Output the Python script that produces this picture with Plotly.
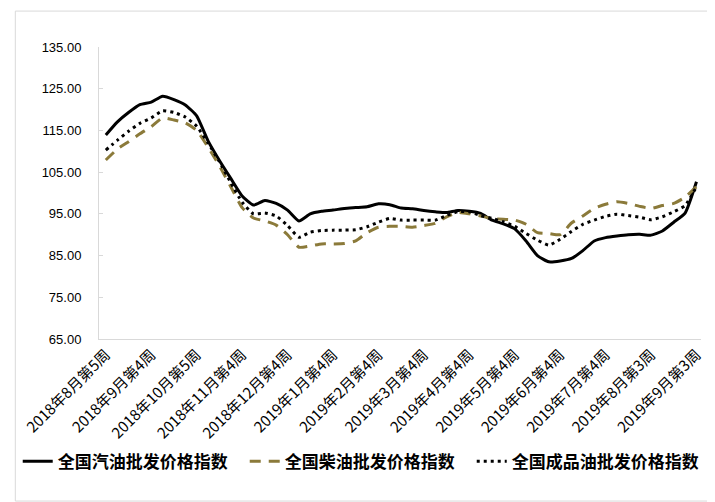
import plotly.graph_objects as go

weeks = list(range(53))

tick_positions = [0, 4, 8, 12, 16, 20, 24, 28, 32, 36, 40, 44, 48, 52]
tick_labels = [
    "2018年8月第5周", "2018年9月第4周", "2018年10月第5周", "2018年11月第4周",
    "2018年12月第4周", "2019年1月第4周", "2019年2月第4周", "2019年3月第4周",
    "2019年4月第4周", "2019年5月第4周", "2019年6月第4周", "2019年7月第4周",
    "2019年8月第3周", "2019年9月第3周",
]

gasoline = [
    113.9, 117.0, 119.3, 121.2, 121.8, 123.2, 122.4, 121.1, 118.5, 112.5,
    107.8, 103.5, 99.3, 97.1, 98.2, 97.5, 95.9, 93.3, 95.0, 95.6,
    95.9, 96.3, 96.5, 96.7, 97.4, 97.2, 96.4, 96.2, 95.8, 95.5,
    95.3, 95.8, 95.6, 95.1, 93.5, 92.6, 91.4, 88.5, 85.0, 83.5,
    83.7, 84.3, 86.2, 88.5, 89.3, 89.7, 90.0, 90.1, 89.9, 90.9,
    93.0, 95.2, 102.7,
]

diesel = [
    107.9, 110.5, 112.3, 114.2, 115.9, 118.0, 117.5, 116.8, 115.0, 111.0,
    106.5, 101.5, 96.5, 94.0, 93.3, 92.3, 90.0, 87.0, 87.3, 87.8,
    87.8, 87.9, 88.5, 90.5, 91.8, 92.0, 92.0, 91.8, 92.2, 92.7,
    94.3, 95.3, 95.0, 94.5, 93.9, 93.7, 93.5, 92.5, 90.5, 90.3,
    90.0, 92.8, 94.5, 96.3, 97.3, 97.9, 97.5, 96.8, 96.3, 97.0,
    97.5, 99.0, 101.5,
]

composite = [
    110.3, 112.6, 114.8, 116.7, 118.0, 119.7, 119.3, 118.2, 116.0, 112.0,
    107.5, 102.5, 97.8, 95.0, 95.2, 94.5, 92.2, 89.4, 90.6, 91.0,
    91.1, 91.1, 91.2, 91.9, 93.0, 93.9, 93.5, 93.5, 93.5, 93.5,
    94.6, 95.5, 95.5, 94.6, 93.9, 93.1, 92.0, 90.3, 88.7, 87.5,
    88.9, 90.8, 92.5, 93.5, 94.4, 94.9, 94.6, 94.2, 93.6, 94.3,
    95.5, 97.0, 101.5,
]

y_ticks = [65, 75, 85, 95, 105, 115, 125, 135]

fig = go.Figure()
fig.add_trace(go.Scatter(
    x=weeks, y=gasoline, mode="lines", name="全国汽油批发价格指数",
    line=dict(color="#000000", width=3, shape="spline", smoothing=0.5),
))
fig.add_trace(go.Scatter(
    x=weeks, y=diesel, mode="lines", name="全国柴油批发价格指数",
    line=dict(color="#8B7A3A", width=3, dash="11px,8px", shape="spline", smoothing=0.5),
))
fig.add_trace(go.Scatter(
    x=weeks, y=composite, mode="lines", name="全国成品油批发价格指数",
    line=dict(color="#000000", width=3, dash="3px,4px", shape="spline", smoothing=0.5),
))

fig.update_layout(
    width=707, height=494,
    margin=dict(l=85, r=10, t=39, b=163),
    paper_bgcolor="white", plot_bgcolor="white",
    font=dict(family="Noto Sans CJK SC", color="#000000"),
    showlegend=True,
    legend=dict(
        orientation="h", x=-0.135, xanchor="left", y=-0.42, yanchor="middle",
        font=dict(size=17, family="Noto Sans CJK SC", weight="bold"),
        itemwidth=30, tracegroupgap=0, bgcolor="rgba(0,0,0,0)",
        entrywidth=182, entrywidthmode="pixels",
    ),
    shapes=[dict(
        type="rect", xref="paper", yref="paper",
        x0=-0.139, x1=1.015, y0=-0.555, y1=1.123,
        line=dict(color="#d9d9d9", width=1), fillcolor="rgba(0,0,0,0)", layer="below",
    )],
)

fig.update_xaxes(
    range=[-0.6, 52.4],
    tickmode="array", tickvals=tick_positions, ticktext=tick_labels,
    tickangle=-45, tickfont=dict(size=15, family="Noto Sans CJK SC", color="#000000"),
    showline=True, linecolor="#d9d9d9", linewidth=1,
    showgrid=False, zeroline=False, ticks="",
)
fig.update_yaxes(
    range=[65, 135],
    tickmode="array", tickvals=y_ticks, ticktext=[f"{v:.2f}" for v in y_ticks],
    tickfont=dict(size=13, family="Liberation Sans", color="#000000"),
    showline=True, linecolor="#d9d9d9", linewidth=1,
    ticks="inside", ticklen=4, tickcolor="#d9d9d9",
    showgrid=False, zeroline=False, ticklabelstandoff=14,
)

fig.write_html("out.html")
